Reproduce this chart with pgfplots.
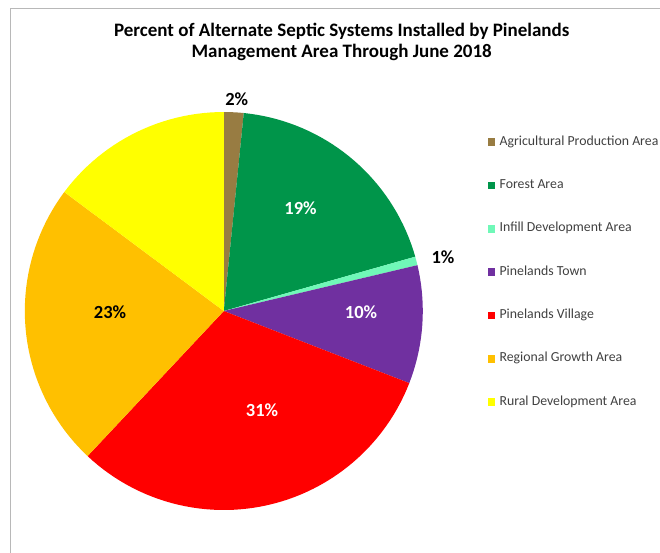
\documentclass[border=0pt]{standalone}
\usepackage{fontspec}
\setmainfont{Carlito}
\usepackage{pgfplots}
\pgfplotsset{compat=1.18}
\definecolor{cAgri}{HTML}{987C42}
\definecolor{cForest}{HTML}{00954A}
\definecolor{cInfill}{HTML}{70F8B8}
\definecolor{cTown}{HTML}{7030A0}
\definecolor{cVillage}{HTML}{FF0000}
\definecolor{cRegional}{HTML}{FFC000}
\definecolor{cRural}{HTML}{FFFF00}
\definecolor{cFrame}{HTML}{B8B8B8}
\definecolor{cLeg}{HTML}{404040}
\def\cx{223.8}\def\cy{311}\def\rr{199}
\gdef\cum{0}
\newcommand{\pieslice}[2]{%
  \pgfmathsetmacro{\aS}{3.6*\cum}%
  \pgfmathsetmacro{\aE}{3.6*(\cum+#1)}%
  \pgfmathtruncatemacro{\nseg}{max(2,ceil((\aE-\aS)/2))}%
  \xdef\pts{(\cx,\cy)}%
  \foreach \i in {0,...,\nseg}{%
    \pgfmathsetmacro{\wt}{\aS+(\aE-\aS)*\i/\nseg}%
    \pgfmathsetmacro{\px}{\cx+\rr*sin(\wt)}%
    \pgfmathsetmacro{\py}{\cy-\rr*cos(\wt)}%
    \xdef\pts{\pts (\px,\py)}}%
  \pgfmathsetmacro{\newcum}{\cum+#1}\xdef\cum{\newcum}%
  \edef\tmp{\noexpand\addplot[fill=#2, draw=none] coordinates {\pts (\cx,\cy)};}\tmp
}
\begin{document}
\begin{tikzpicture}
\begin{axis}[
  at={(0,0)}, anchor=south west, scale only axis,
  width=660pt, height=552pt,
  xmin=0, xmax=660, ymin=0, ymax=552, y dir=reverse,
  hide axis, clip=false,
  legend image code/.code={\fill[#1] (0pt,-3.8pt) rectangle (7.6pt,3.8pt);},
  legend style={at={(axis cs:487.3,137)}, anchor=north west, draw=none, fill=none,
    inner sep=0pt, row sep=33.3pt, column sep=0pt,
    font=\fontsize{13.8}{15}\selectfont\color{cLeg},
    nodes={inner xsep=0pt, inner ysep=0pt, text height=8pt, text depth=2pt, anchor=west},
    /tikz/every odd column/.append style={column sep=4.5pt}},
  legend cell align=left,
]
\pieslice{1.6}{cAgri}      \addlegendentry{Agricultural Production Area}
\pieslice{19.0}{cForest}   \addlegendentry{Forest Area}
\pieslice{0.7}{cInfill}    \addlegendentry{Infill Development Area}
\pieslice{9.6}{cTown}      \addlegendentry{Pinelands Town}
\pieslice{31.1}{cVillage}  \addlegendentry{Pinelands Village}
\pieslice{23.2}{cRegional} \addlegendentry{Regional Growth Area}
\pieslice{14.8}{cRural}    \addlegendentry{Rural Development Area}
\draw[cFrame, line width=1pt] (axis cs:10,560) -- (axis cs:10,8.5) -- (axis cs:670,8.5);
\begin{scope}[every node/.style={font=\bfseries\fontsize{19}{22}\selectfont, anchor=base}]
\node at (axis cs:341.7,36) {Percent of Alternate Septic Systems Installed by Pinelands};
\node at (axis cs:341.7,57.5) {Management Area Through June 2018};
\end{scope}
\begin{scope}[every node/.style={font=\bfseries\fontsize{18.5}{20}\selectfont}]
\node at (axis cs:236.7,99) {2\%};
\node[white] at (axis cs:300.5,208) {19\%};
\node at (axis cs:443,257) {1\%};
\node[white] at (axis cs:361,312) {10\%};
\node[white] at (axis cs:262,410) {31\%};
\node at (axis cs:110,312) {23\%};
\end{scope}
\end{axis}
\pgfresetboundingbox
\path (0,0) rectangle (660pt,552pt);
\end{tikzpicture}
\end{document}
